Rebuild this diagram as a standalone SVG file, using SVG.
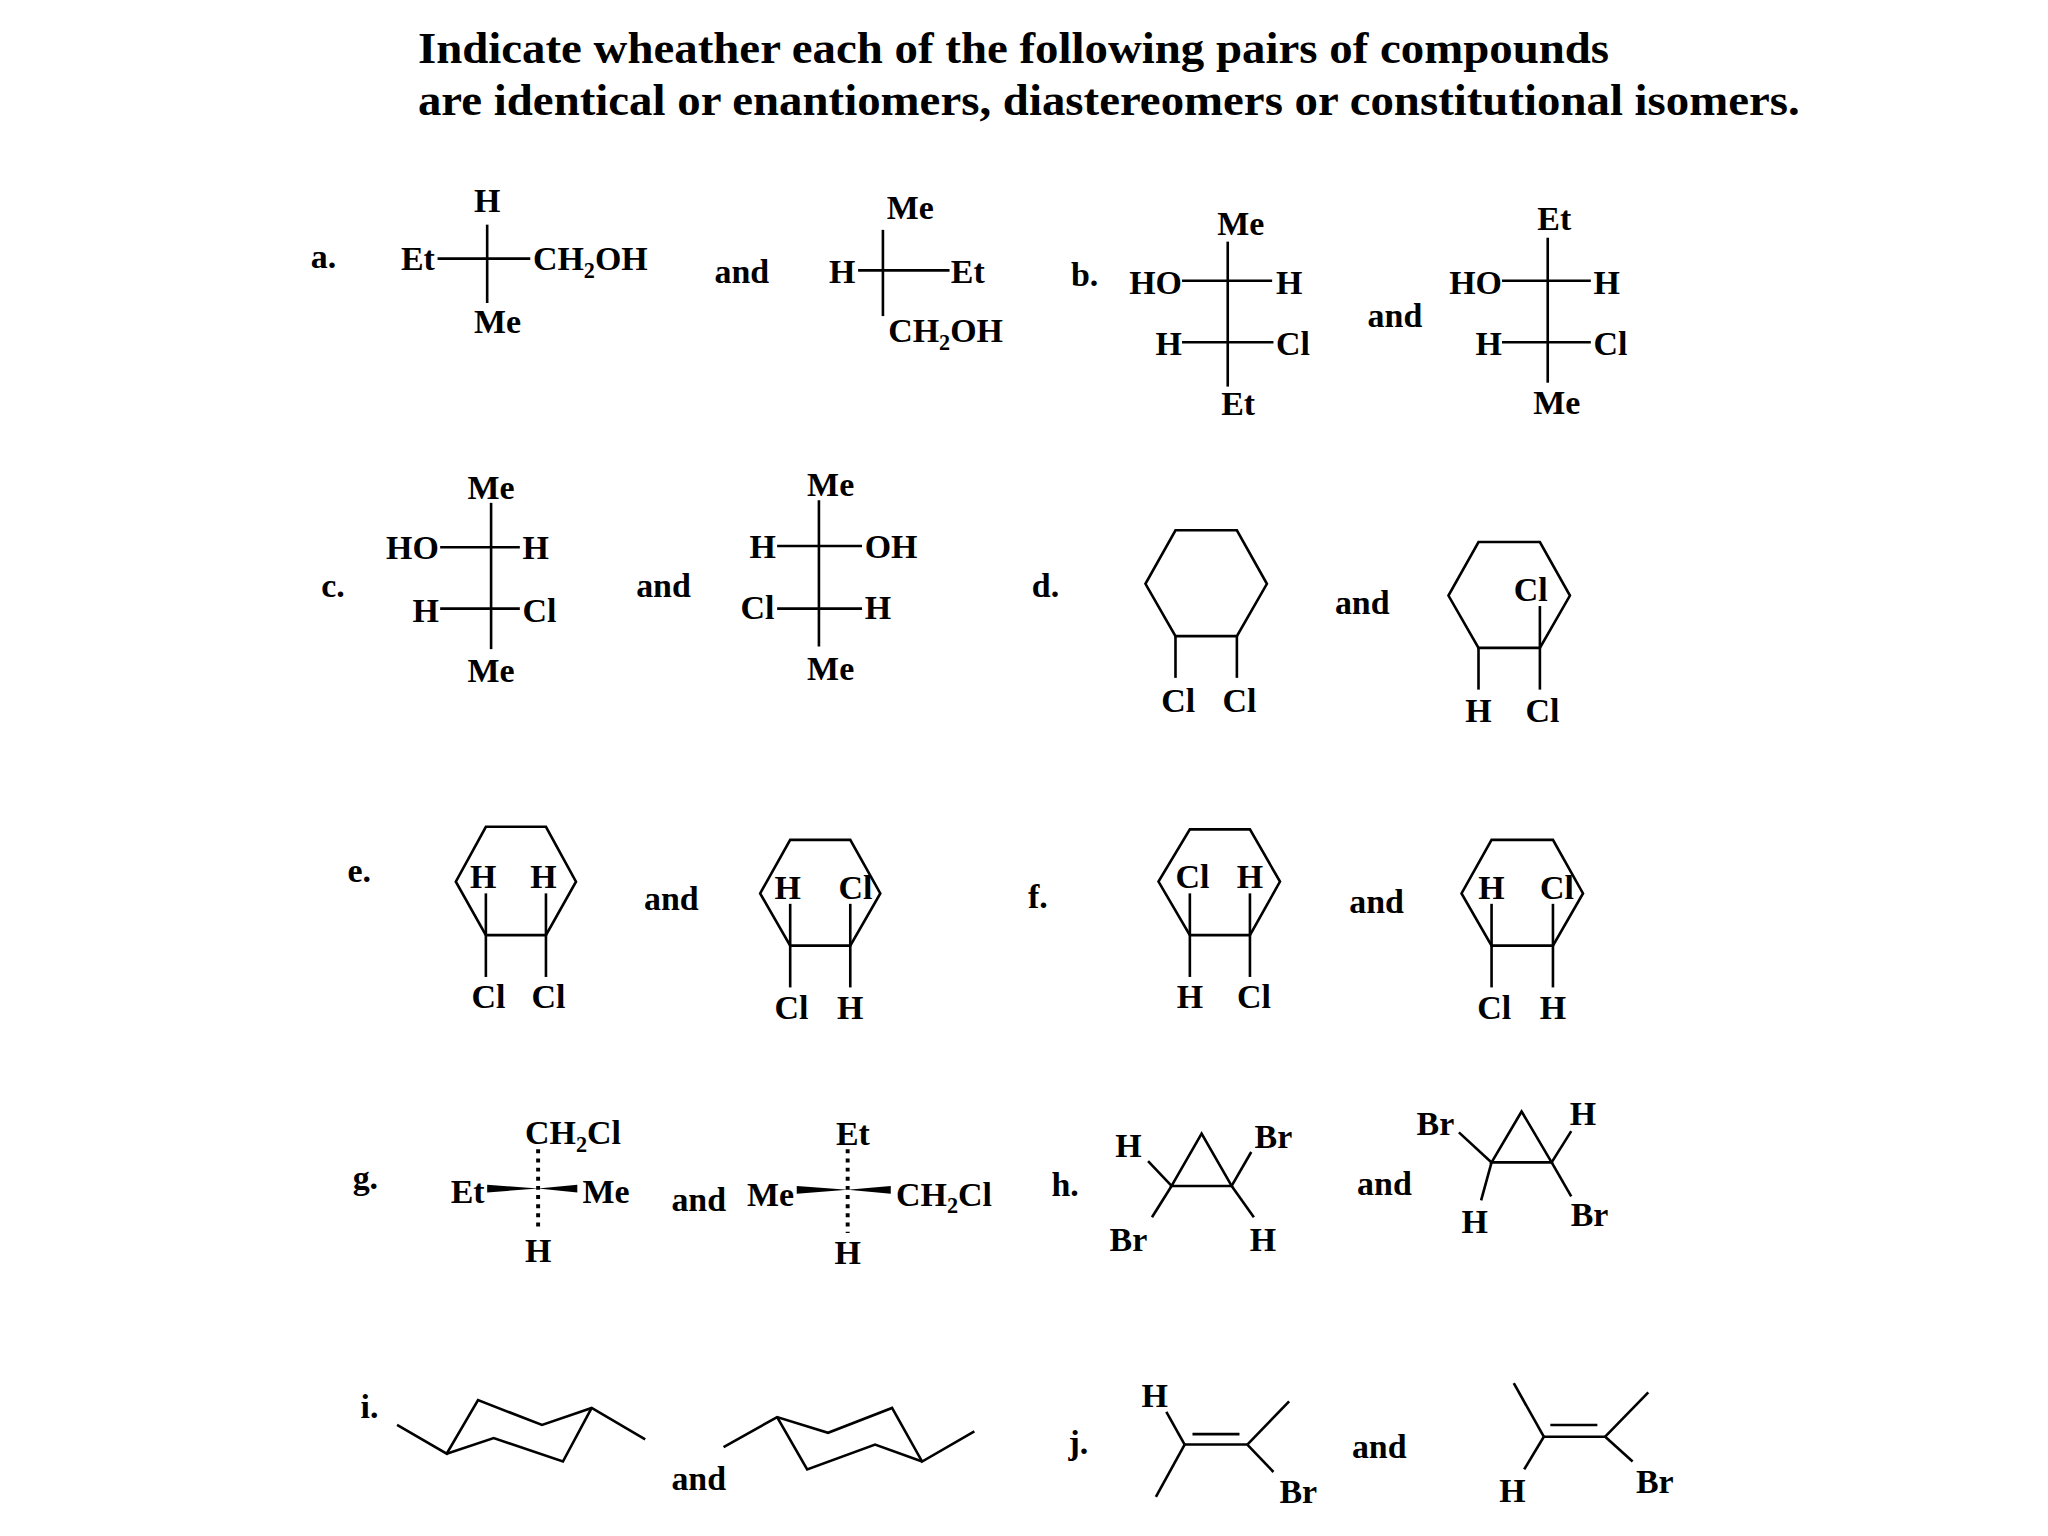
<svg xmlns="http://www.w3.org/2000/svg" width="2048" height="1536" viewBox="0 0 2048 1536">
<style>
text{font-family:"Liberation Serif","Times New Roman",serif;font-weight:bold;font-size:26px;fill:#000}
.t{font-size:34px}
.m{text-anchor:middle}.e{text-anchor:end}
.s{font-size:17px}
line,polyline,polygon{stroke:#000;stroke-width:2;fill:none}
.d{stroke-dasharray:3 4;stroke-width:3}
.w{fill:#000;stroke:none}
</style>
<rect width="2048" height="1536" fill="#fff"/>
<g transform="scale(1.3061)">
<g id="title"><text class="t" x="320" y="48" textLength="912" lengthAdjust="spacingAndGlyphs">Indicate wheather each of the following pairs of compounds</text><text class="t" x="320" y="88" textLength="1058" lengthAdjust="spacingAndGlyphs">are identical or enantiomers, diastereomers or constitutional isomers.</text></g>
<g id="labels"><text x="238" y="205">a.</text><text x="820" y="219">b.</text><text x="246" y="457">c.</text><text x="790" y="457">d.</text><text x="266" y="675">e.</text><text x="787" y="695">f.</text><text x="270" y="910">g.</text><text x="805" y="916">h.</text><text x="276" y="1086">i.</text><text x="818" y="1113">j.</text>
<text x="547" y="217">and</text><text class="m" x="1068" y="250">and</text><text class="m" x="508" y="457">and</text><text class="m" x="1043" y="470">and</text><text class="m" x="514" y="697">and</text><text class="m" x="1054" y="699">and</text><text class="m" x="535" y="927">and</text><text class="m" x="1060" y="915">and</text><text class="m" x="535" y="1141">and</text><text class="m" x="1056" y="1116">and</text></g>
<g id="a1"><line x1="373" y1="172" x2="373" y2="232"/><line x1="335" y1="198" x2="406" y2="198"/><text class="m" x="373" y="162">H</text><text class="e" x="333" y="207">Et</text><text x="408" y="207">CH<tspan class="s" dy="6">2</tspan><tspan dy="-6">OH</tspan></text><text class="m" x="381" y="255">Me</text></g>
<g id="a2"><line x1="676" y1="176" x2="676" y2="242"/><line x1="657" y1="207" x2="727" y2="207"/><text class="m" x="697" y="168">Me</text><text class="e" x="655" y="217">H</text><text x="728" y="217">Et</text><text x="680" y="262">CH<tspan class="s" dy="6">2</tspan><tspan dy="-6">OH</tspan></text></g>
<g id="b1"><line x1="940" y1="185" x2="940" y2="296"/><line x1="905" y1="215" x2="974" y2="215"/><line x1="905" y1="262" x2="975" y2="262"/><text class="m" x="950" y="180">Me</text><text class="e" x="905" y="225">HO</text><text x="977" y="225">H</text><text class="e" x="905" y="272">H</text><text x="977" y="272">Cl</text><text class="m" x="948" y="318">Et</text></g>
<g id="b2"><line x1="1185" y1="182" x2="1185" y2="293"/><line x1="1150" y1="215" x2="1218" y2="215"/><line x1="1150" y1="262" x2="1218" y2="262"/><text class="m" x="1190" y="176">Et</text><text class="e" x="1150" y="225">HO</text><text x="1220" y="225">H</text><text class="e" x="1150" y="272">H</text><text x="1220" y="272">Cl</text><text class="m" x="1192" y="317">Me</text></g>
<g id="c1"><line x1="376" y1="385" x2="376" y2="497"/><line x1="337" y1="419" x2="398" y2="419"/><line x1="337" y1="466" x2="398" y2="466"/><text class="m" x="376" y="382">Me</text><text class="e" x="336" y="428">HO</text><text x="400" y="428">H</text><text class="e" x="336" y="476">H</text><text x="400" y="476">Cl</text><text class="m" x="376" y="522">Me</text></g>
<g id="c2"><line x1="627" y1="383" x2="627" y2="495"/><line x1="595" y1="418" x2="660" y2="418"/><line x1="595" y1="466" x2="660" y2="466"/><text class="m" x="636" y="380">Me</text><text class="e" x="594" y="427">H</text><text x="662" y="427">OH</text><text class="e" x="593" y="474">Cl</text><text x="662" y="474">H</text><text class="m" x="636" y="521">Me</text></g>
<g id="d1"><polygon points="900,406 947,406 970,447 947,487 900,487 877,447"/><line x1="900" y1="487" x2="900" y2="519"/><line x1="947" y1="487" x2="947" y2="519"/><text class="m" x="902" y="545">Cl</text><text class="m" x="949" y="545">Cl</text></g>
<g id="d2"><polygon points="1132,415 1179,415 1202,456 1179,496 1132,496 1109,456"/><line x1="1132" y1="496" x2="1132" y2="528"/><line x1="1179" y1="464" x2="1179" y2="528"/><text class="m" x="1172" y="460">Cl</text><text class="m" x="1132" y="553">H</text><text class="m" x="1181" y="553">Cl</text></g>
<g id="e1"><polygon points="372,633 418,633 441,675 418,716 372,716 349,675"/><line x1="372" y1="684" x2="372" y2="748"/><line x1="418" y1="684" x2="418" y2="748"/><text class="m" x="370" y="680">H</text><text class="m" x="416" y="680">H</text><text class="m" x="374" y="772">Cl</text><text class="m" x="420" y="772">Cl</text></g>
<g id="e2"><polygon points="605,643 651,643 674,684 651,724 605,724 582,684"/><line x1="605" y1="692" x2="605" y2="756"/><line x1="651" y1="692" x2="651" y2="756"/><text class="m" x="603" y="688">H</text><text class="m" x="655" y="688">Cl</text><text class="m" x="606" y="780">Cl</text><text class="m" x="651" y="780">H</text></g>
<g id="f1"><polygon points="911,635 957,635 980,675 957,716 911,716 887,675"/><line x1="911" y1="684" x2="911" y2="748"/><line x1="957" y1="684" x2="957" y2="748"/><text class="m" x="913" y="680">Cl</text><text class="m" x="957" y="680">H</text><text class="m" x="911" y="772">H</text><text class="m" x="960" y="772">Cl</text></g>
<g id="f2"><polygon points="1142,643 1189,643 1212,684 1189,724 1142,724 1119,684"/><line x1="1142" y1="692" x2="1142" y2="756"/><line x1="1189" y1="692" x2="1189" y2="756"/><text class="m" x="1142" y="688">H</text><text class="m" x="1192" y="688">Cl</text><text class="m" x="1144" y="780">Cl</text><text class="m" x="1189" y="780">H</text></g>
<g id="g1"><line class="d" x1="412" y1="880" x2="412" y2="943"/><polygon class="w" points="373,907 373,913 412,910"/><polygon class="w" points="412,910 442,907 442,913"/><text x="402" y="876">CH<tspan class="s" dy="6">2</tspan><tspan dy="-6">Cl</tspan></text><text class="e" x="371" y="921">Et</text><text x="446" y="921">Me</text><text class="m" x="412" y="966">H</text></g>
<g id="g2"><line class="d" x1="649" y1="880" x2="649" y2="944"/><polygon class="w" points="610,908 610,914 649,911"/><polygon class="w" points="649,911 682,908 682,914"/><text class="m" x="653" y="877">Et</text><text class="e" x="608" y="923">Me</text><text x="686" y="923">CH<tspan class="s" dy="6">2</tspan><tspan dy="-6">Cl</tspan></text><text class="m" x="649" y="968">H</text></g>
<g id="h1"><polygon points="920,868 897,908 943,908"/><line x1="897" y1="908" x2="879" y2="889"/><line x1="897" y1="908" x2="882" y2="932"/><line x1="943" y1="908" x2="958" y2="882"/><line x1="943" y1="908" x2="960" y2="932"/><text class="m" x="864" y="886">H</text><text class="m" x="975" y="879">Br</text><text class="m" x="864" y="958">Br</text><text class="m" x="967" y="958">H</text></g>
<g id="h2"><polygon points="1165,851 1142,890 1188,890"/><line x1="1142" y1="890" x2="1117" y2="867"/><line x1="1142" y1="890" x2="1134" y2="919"/><line x1="1188" y1="890" x2="1203" y2="866"/><line x1="1188" y1="890" x2="1203" y2="916"/><text class="m" x="1099" y="869">Br</text><text class="m" x="1212" y="861">H</text><text class="m" x="1129" y="944">H</text><text class="m" x="1217" y="939">Br</text></g>
<g id="i1"><polyline points="304,1091 342,1113 366,1072 415,1091 453,1078 494,1102"/><polyline points="342,1113 378,1101 431,1119 453,1078"/></g>
<g id="i2"><polyline points="554,1108 595,1085 634,1097 683,1078 706,1119 746,1096"/><polyline points="595,1085 618,1125 670,1106 706,1119"/></g>
<g id="j1"><line x1="907" y1="1106" x2="955" y2="1106"/><line x1="913" y1="1098" x2="949" y2="1098"/><line x1="907" y1="1106" x2="893" y2="1081"/><line x1="907" y1="1106" x2="885" y2="1146"/><line x1="955" y1="1106" x2="987" y2="1073"/><line x1="955" y1="1106" x2="975" y2="1127"/><text class="m" x="884" y="1077">H</text><text class="m" x="994" y="1151">Br</text></g>
<g id="j2"><line x1="1182" y1="1100" x2="1229" y2="1100"/><line x1="1187" y1="1091" x2="1223" y2="1091"/><line x1="1182" y1="1100" x2="1159" y2="1059"/><line x1="1182" y1="1100" x2="1167" y2="1125"/><line x1="1229" y1="1100" x2="1262" y2="1066"/><line x1="1229" y1="1100" x2="1250" y2="1119"/><text class="m" x="1158" y="1150">H</text><text class="m" x="1267" y="1143">Br</text></g>
</g>
</svg>
